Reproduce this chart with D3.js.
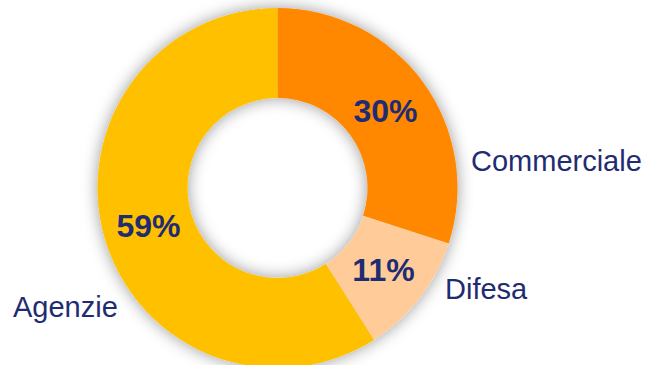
<!DOCTYPE html>
<html>
<head>
<meta charset="utf-8">
<script src="https://cdn.jsdelivr.net/npm/d3@7"></script>
<style>
  html, body { margin: 0; padding: 0; background: #fff; }
  svg { display: block; font-family: "Liberation Sans", Arial, sans-serif; }
</style>
</head>
<body>
<div class="chart"></div>
<script>
const categories = ['Commerciale', 'Difesa', 'Agenzie']
const values = [30, 11, 59]
const pctLabels = ['30%', '11%', '59%']
const colors = ['#FF8800', '#FFCC99', '#FFC000']

const width = 649, height = 365
const cx = 277.5, cy = 188
const outerR = 180, innerR = 90
const textCol = '#1F2C72'

const svg = d3.select('.chart')
    .append('svg')
    .attr('width', width)
    .attr('height', height)

let defs = svg.append('defs')
let flt = defs.append('filter')
    .attr('id', 'shadow')
    .attr('x', '-25%').attr('y', '-25%')
    .attr('width', '150%').attr('height', '150%')
flt.append('feDropShadow')
    .attr('dx', 0).attr('dy', 0)
    .attr('stdDeviation', 8)
    .attr('flood-color', '#000')
    .attr('flood-opacity', 0.4)

const pie = d3.pie().sort(null).value(d => d)
const arcs = pie(values)
const arc = d3.arc().innerRadius(innerR).outerRadius(outerR)

const g = svg.append('g')
    .attr('transform', `translate(${cx},${cy})`)

g.append('g')
    .attr('filter', 'url(#shadow)')
    .selectAll('path')
    .data(arcs)
    .join('path')
    .attr('d', arc)
    .attr('fill', (d, i) => colors[i])

// percentage labels, placed along the ring
const pctPos = [[108, -66], [106, 93], [-129, 49]]
g.selectAll('text.pct')
    .data(arcs)
    .join('text')
    .attr('class', 'pct')
    .attr('x', (d, i) => pctPos[i][0])
    .attr('y', (d, i) => pctPos[i][1])
    .attr('text-anchor', 'middle')
    .attr('font-size', 32)
    .attr('font-weight', 'bold')
    .attr('fill', textCol)
    .text((d, i) => pctLabels[i])

// category labels outside the ring
const catPos = [[471, 170.5, 'start'], [445, 299, 'start'], [13, 317, 'start']]
svg.selectAll('text.cat')
    .data(categories)
    .join('text')
    .attr('class', 'cat')
    .attr('x', (d, i) => catPos[i][0])
    .attr('y', (d, i) => catPos[i][1])
    .attr('text-anchor', (d, i) => catPos[i][2])
    .attr('font-size', 29)
    .attr('fill', textCol)
    .text(d => d)
</script>
</body>
</html>
